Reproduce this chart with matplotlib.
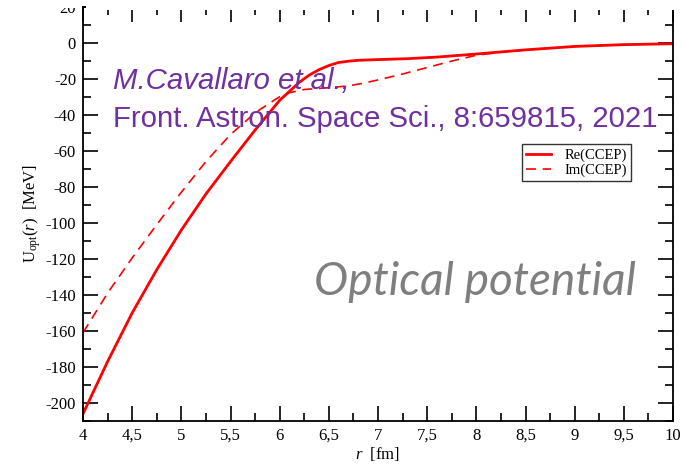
'''
Optical potential (CCEP): real and imaginary parts vs r.
Values read off the published figure.
'''

# %% Imports.
import matplotlib
matplotlib.use('Agg')
from matplotlib import pyplot as plt
from matplotlib.patches import Rectangle
from matplotlib.ticker import MultipleLocator, FuncFormatter

# %% Data.
# Real part, solid line:
r_re = [4.0, 4.25, 4.5, 4.75, 5.0, 5.25, 5.5, 5.75, 6.0, 6.2, 6.3, 6.4, 6.5,
        6.6, 6.7, 6.8, 7.0, 7.3, 7.6, 8.0, 8.5, 9.0, 9.5, 10.0]
u_re = [-206, -177, -150, -126, -104, -84, -66, -48.5, -32, -22, -18, -15,
        -12.7, -11, -10.3, -9.8, -9.4, -8.9, -8.0, -6.3, -4, -2.1, -1.1, -0.6]

# Imaginary part, dashed line:
r_im = [4.0, 4.25, 4.5, 4.75, 5.0, 5.25, 5.5, 5.75, 5.9, 6.0, 6.1, 6.25,
        6.5, 6.7, 6.85, 7.0, 7.25, 7.5, 7.75, 8.0, 8.25, 8.5, 9.0, 9.5, 10.0]
u_im = [-161, -139, -119.5, -101, -83, -66, -51, -39, -33.5, -30, -27.8, -26,
        -25, -24, -22.5, -20.7, -17.4, -13.8, -10.2, -7, -5.3, -4, -2.1, -1.1, -0.6]

# Labels:
lab_re = 'Re(CCEP)'
lab_im = 'Im(CCEP)'
ref_txt1 = 'M.Cavallaro et al.,'
ref_txt2 = 'Front. Astron. Space Sci., 8:659815, 2021'
title_txt = 'Optical potential'

# %% Fonts.
plt.rcParams['font.family'] = ['Liberation Serif', 'DejaVu Serif']
plt.rcParams['mathtext.fontset'] = 'custom'
plt.rcParams['mathtext.rm'] = 'Liberation Serif'
plt.rcParams['mathtext.it'] = 'Liberation Serif:italic'
plt.rcParams['axes.unicode_minus'] = False

# %% Chart.
fig = plt.figure(figsize=(6.85, 4.66), dpi=100)
ax = fig.add_axes([0.1212, 0.0966, 0.8613, 0.8892])

ax.plot(r_re, u_re, color='red', lw=2.0, label=lab_re)
ax.plot(r_im, u_im, color='red', lw=1.2, ls=(0, (6, 4)), label=lab_im)

# Axis:
ax.set_xlim(4, 10)
ax.set_ylim(-210, 20)
ax.xaxis.set_major_locator(MultipleLocator(0.5))
ax.xaxis.set_minor_locator(MultipleLocator(0.25))
ax.yaxis.set_major_locator(MultipleLocator(20))
ax.yaxis.set_minor_locator(MultipleLocator(10))
ax.xaxis.set_major_formatter(FuncFormatter(lambda v, p: ('%g' % v).replace('.', ',')))
ax.tick_params(which='both', direction='in', top=True, right=True,
               labelsize=12, width=1.2, pad=5)
ax.tick_params(which='major', length=11)
ax.tick_params(which='minor', length=5.5)
for sp in ax.spines.values():
    sp.set_linewidth(1.3)

# Titles:
ax.set_xlabel(r'$r$  [fm]', fontsize=12, labelpad=1)
ax.set_ylabel(r'U$_{\rm opt}$($r$)  [MeV]', fontsize=12, labelpad=2)

# Legend:
leg = ax.legend(loc='upper left', bbox_to_anchor=(0.744, 0.668), fontsize=10.5,
                frameon=True, fancybox=False, edgecolor='black',
                handlelength=1.7, borderpad=0.3, labelspacing=0.1,
                handletextpad=0.9, borderaxespad=0)
leg.get_frame().set_linewidth(1.0)

# Texts:
ax.text(0.051, 0.82, ref_txt1, transform=ax.transAxes, fontsize=21.2,
        family='Liberation Sans', style='italic', color='#7030A0', va='center')
ax.text(0.051, 0.728, ref_txt2, transform=ax.transAxes, fontsize=21.2,
        family='Liberation Sans', color='#7030A0', va='center')
ax.text(0.937, 0.335, title_txt, transform=ax.transAxes, fontsize=33,
        family='Lato', style='italic', color='#7f7f7f', ha='right', va='center')

# The top strip is cut in the original image:
fig.patches.append(Rectangle((0, 458 / 466), 81 / 685, 8 / 466, transform=fig.transFigure,
                             facecolor='white', edgecolor='none', zorder=10))
fig.patches.append(Rectangle((86 / 685, 456 / 466), 1, 10 / 466, transform=fig.transFigure,
                             facecolor='white', edgecolor='none', zorder=10))

fig.savefig('out.png', dpi=100)
